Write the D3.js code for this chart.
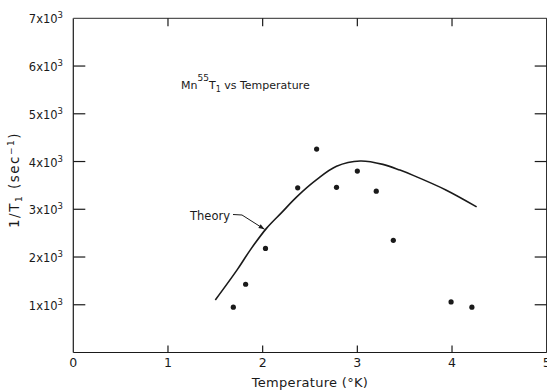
<!DOCTYPE html>
<html><head><meta charset="utf-8">
<script src="https://cdn.jsdelivr.net/npm/d3@7"></script>
<style>
html,body{margin:0;padding:0;background:#fff;}
svg{display:block;font-family:"DejaVu Sans",sans-serif;}
</style></head>
<body><svg id="c" width="547" height="392"></svg>
<script>
// Data
const dataT = [1.69, 1.82, 2.03, 2.37, 2.57, 2.78, 3.00, 3.20, 3.38, 3.99, 4.21];
const dataRate = [950, 1430, 2180, 3450, 4260, 3460, 3800, 3380, 2350, 1060, 950];
const theoryT = [1.50, 1.73, 1.87, 2.04, 2.20, 2.36, 2.57, 2.78, 3.03, 3.27, 3.45, 3.59, 3.94, 4.26];
const theoryRate = [1100, 1730, 2150, 2600, 2930, 3260, 3620, 3900, 4010, 3940, 3820, 3710, 3400, 3050];
const xTicks = [0, 1, 2, 3, 4, 5];
const yTicks = [1000, 2000, 3000, 4000, 5000, 6000, 7000];
const yTickMant = ["1", "2", "3", "4", "5", "6", "7"];

const svg = d3.select("#c");
const x = d3.scaleLinear().domain([0, 5]).range([73.3, 546.7]);
const y = d3.scaleLinear().domain([0, 7000]).range([352.5, 18.3]);
const ink = "#1a1a1a";

// frame
const g = svg.append("g").attr("stroke", ink).attr("stroke-width", 1.2).attr("fill", "none");
g.append("line").attr("x1", x(0)).attr("x2", x(5)).attr("y1", y(0)).attr("y2", y(0));
g.append("line").attr("x1", x(0)).attr("x2", x(0)).attr("y1", y(0)).attr("y2", y(7000));
g.append("line").attr("x1", x(0)).attr("x2", x(5)).attr("y1", y(7000)).attr("y2", y(7000)).attr("stroke", "#555");
g.append("line").attr("x1", x(5)).attr("x2", x(5)).attr("y1", y(0)).attr("y2", y(7000));

// ticks
const inner = [1, 2, 3, 4];
inner.forEach(t => {
  g.append("line").attr("x1", x(t)).attr("x2", x(t)).attr("y1", y(0)).attr("y2", y(0) - 7);
  g.append("line").attr("x1", x(t)).attr("x2", x(t)).attr("y1", y(7000)).attr("y2", y(7000) + 8);
});
yTicks.slice(0, 6).forEach(t => {
  g.append("line").attr("x1", x(0)).attr("x2", x(0) + 12).attr("y1", y(t)).attr("y2", y(t));
  g.append("line").attr("x1", x(5) - 12).attr("x2", x(5)).attr("y1", y(t)).attr("y2", y(t));
});

// x tick labels
svg.append("g").selectAll("text").data(xTicks).join("text")
  .attr("x", d => x(d)).attr("y", 367).attr("text-anchor", "middle")
  .attr("font-size", 12.5).attr("fill", ink).text(d => d);

// y tick labels
const yl = svg.append("g").selectAll("text").data(yTicks).join("text")
  .attr("x", 63).attr("y", d => y(d) + 5).attr("text-anchor", "end")
  .attr("font-size", 11.5).attr("fill", ink);
yl.each(function(d, i) {
  const t = d3.select(this);
  t.append("tspan").text(yTickMant[i] + "x10");
  t.append("tspan").attr("dy", -5).attr("font-size", 8.5).text("3");
});

// axis titles
svg.append("text").attr("x", 310).attr("y", 387).attr("text-anchor", "middle")
  .attr("font-size", 13).attr("letter-spacing", 0.3).attr("fill", ink).text("Temperature (°K)");
const yt = svg.append("text").attr("transform", "translate(19,180) rotate(-90)")
  .attr("text-anchor", "middle").attr("font-size", 13.5).attr("letter-spacing", 1.5).attr("fill", ink);
yt.append("tspan").text("1/T");
yt.append("tspan").attr("dy", 3).attr("font-size", 9).text("1");
yt.append("tspan").attr("dy", -3).text(" (sec");
yt.append("tspan").attr("dy", -5).attr("font-size", 9).text("−1");
yt.append("tspan").attr("dy", 5).text(")");

// chart title
const tt = svg.append("text").attr("x", 181).attr("y", 89).attr("font-size", 11).attr("fill", ink);
tt.append("tspan").text("Mn");
tt.append("tspan").attr("dy", -8).attr("font-size", 9).text("55");
tt.append("tspan").attr("dy", 8).text("T");
tt.append("tspan").attr("dy", 3).attr("font-size", 8).text("1");
tt.append("tspan").attr("dy", -3).text(" vs  Temperature");

// theory curve
const pts = theoryT.map((t, i) => [t, theoryRate[i]]);
svg.append("path").datum(pts)
  .attr("d", d3.line().x(d => x(d[0])).y(d => y(d[1])).curve(d3.curveCatmullRom.alpha(0.5)))
  .attr("fill", "none").attr("stroke", ink).attr("stroke-width", 1.6);

// data points
svg.append("g").selectAll("circle").data(dataT).join("circle")
  .attr("cx", d => x(d)).attr("cy", (d, i) => y(dataRate[i])).attr("r", 2.6).attr("fill", ink);

// Theory label and arrow
svg.append("text").attr("x", 190).attr("y", 220).attr("font-size", 11.5).attr("fill", ink).text("Theory");
const ax = x(2.02), ay = y(2580);
svg.append("path").attr("d", `M233,214.5 L242,215 L${ax},${ay}`)
  .attr("fill", "none").attr("stroke", ink).attr("stroke-width", 1);
const ang = Math.atan2(ay - 215, ax - 242);
const hl = 6, hw = 2.2;
const bx = ax - hl * Math.cos(ang), by = ay - hl * Math.sin(ang);
svg.append("path").attr("d", `M${ax},${ay} L${bx - hw * Math.sin(ang)},${by + hw * Math.cos(ang)} L${bx + hw * Math.sin(ang)},${by - hw * Math.cos(ang)} Z`)
  .attr("fill", ink);
</script></body></html>
